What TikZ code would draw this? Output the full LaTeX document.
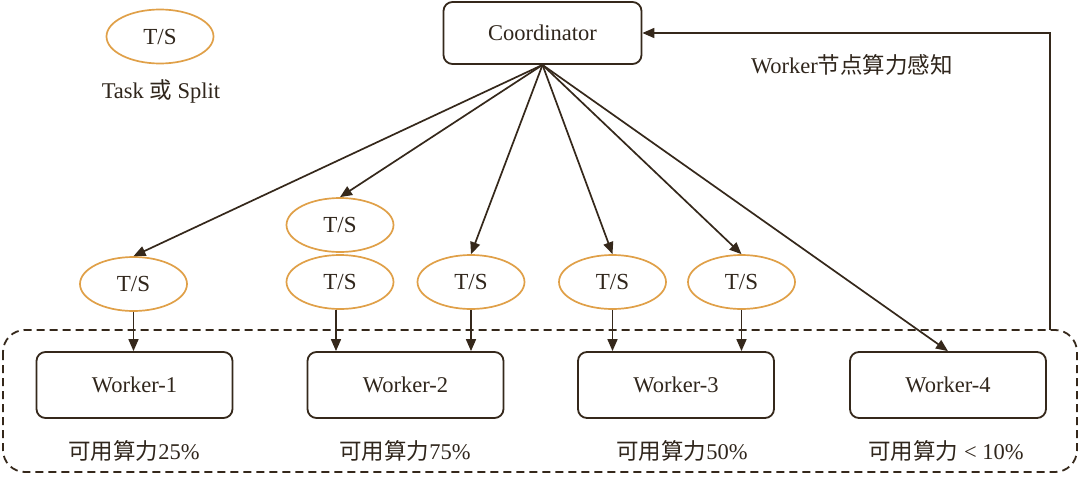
\documentclass[tikz,border=0pt]{standalone}
\usepackage{fontspec}
\setmainfont{Liberation Serif}
\newfontfamily\cjk{Noto Sans CJK SC}
\usetikzlibrary{shapes.geometric,arrows.meta}
\definecolor{ink}{HTML}{35281B}
\definecolor{txt}{HTML}{30261C}
\definecolor{ts}{HTML}{E0A048}
\tikzset{
  box/.style={draw=ink,line width=1.8pt,rounded corners=9pt,minimum width=196pt,minimum height=66pt,inner sep=0pt,text=txt,font=\fontsize{22.5}{26}\selectfont},
  tsnode/.style={ellipse,draw=ts,line width=1.7pt,minimum width=107pt,minimum height=54pt,inner sep=0pt,text=txt,font=\fontsize{23}{26}\selectfont},
  lbl/.style={text=txt,inner sep=0pt,font=\fontsize{22.5}{26}\selectfont},
  arr/.style={draw=ink,line width=1.7pt,-{Triangle[length=12pt,width=10pt]}},
  grp/.style={draw=ink,line width=1.8pt,dash pattern=on 8pt off 5pt,rounded corners=22pt}
}
\begin{document}
\begin{tikzpicture}[x=1pt,y=-1pt]
\useasboundingbox[fill=white] (0,0) rectangle (1080,482);
% group
\draw[grp] (3,330) rectangle (1077,472);
% legend
\node[tsnode] (leg) at (160,36.5) {T/S};
\node[lbl] (legl) at (161,91) {Task {\cjk 或} Split};
% coordinator
\node[box,minimum width=198pt,minimum height=62pt] (C) at (542.5,33) {Coordinator};
\node[lbl] (fbl) at (852,65) {Worker{\cjk 节点算力感知}};
% T/S nodes
\node[tsnode] (t1) at (133.5,284) {T/S};
\node[tsnode] (t2a) at (340,225) {T/S};
\node[tsnode] (t2b) at (340,282) {T/S};
\node[tsnode] (t3) at (471,282) {T/S};
\node[tsnode] (t4) at (612.5,282) {T/S};
\node[tsnode] (t5) at (741.5,282) {T/S};
% workers
\node[box] (w1) at (134.5,385) {Worker-1};
\node[box] (w2) at (405.5,385) {Worker-2};
\node[box] (w3) at (676,385) {Worker-3};
\node[box] (w4) at (948,385) {Worker-4};
% labels
\node[lbl] (l1) at (134,451) {{\cjk 可用算力}25\%};
\node[lbl] (l2) at (405,451) {{\cjk 可用算力}75\%};
\node[lbl] (l3) at (682,451) {{\cjk 可用算力}50\%};
\node[lbl] (l4) at (946,451) {{\cjk 可用算力} < 10\%};
% fan-out
\coordinate (cs) at (C.south);
\draw[arr] (cs) -- (t1.north);
\draw[arr] (cs) -- (t2a.north);
\draw[arr] (cs) -- (t3.north);
\draw[arr] (cs) -- (t4.north);
\draw[arr] (cs) -- (t5.north);
\draw[arr] (cs) -- (w4.north);
% down arrows
\draw[arr] ([xshift=-4pt]t2b.south) -- ([xshift=-4pt]t2b.south |- w2.north);
\draw[arr] (t1.south) -- (t1.south |- w1.north);
\draw[arr] (t3.south) -- (t3.south |- w2.north);
\draw[arr] (t4.south) -- (t4.south |- w3.north);
\draw[arr] (t5.south) -- (t5.south |- w3.north);
% feedback
\coordinate (fb) at (1050,330);
\draw[arr] (fb) |- (C.east);
\end{tikzpicture}
\end{document}
